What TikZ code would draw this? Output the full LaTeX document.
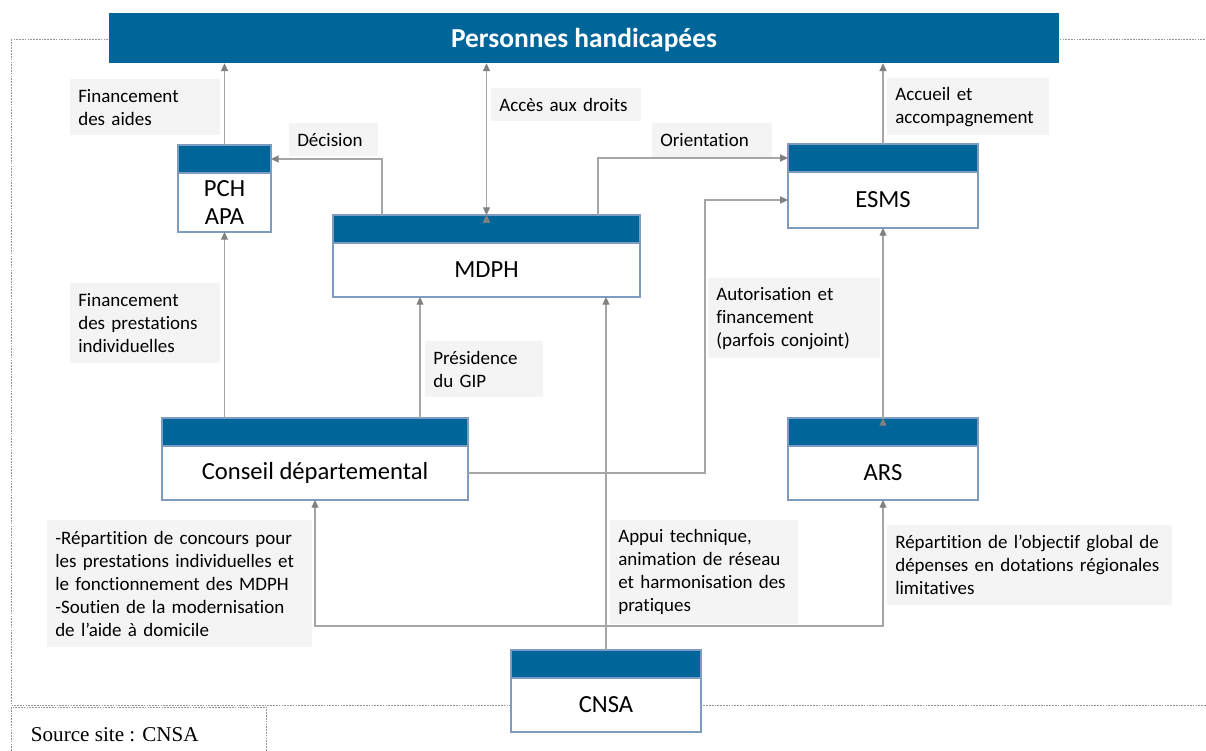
\documentclass[tikz,border=0pt]{standalone}
\usepackage{fontspec}
\setmainfont{Carlito}[Ligatures=NoCommon]
\newfontfamily\sourcefont{Liberation Serif}
\usetikzlibrary{arrows.meta,positioning}

\definecolor{bleuCNSA}{RGB}{0,102,153}
\definecolor{bordCNSA}{RGB}{126,156,192}
\definecolor{fondetiq}{RGB}{244,244,244}
\definecolor{gristrait}{RGB}{166,166,166}
\definecolor{grisfleche}{RGB}{128,128,128}
\definecolor{grispoint}{RGB}{150,150,150}

\begin{document}
\begin{tikzpicture}[>={Triangle[length=5.5pt,width=5pt,color=grisfleche]}, x=0.025cm, y=-0.025cm, font=\fontsize{13.5pt}{16.4pt}\selectfont]
	\tikzstyle{corps}=[rectangle,draw=bordCNSA,fill=white,line width=1pt,inner sep=0pt,outer sep=0pt,align=center,font=\fontsize{17.5pt}{20pt}\selectfont]
	\tikzstyle{entete}=[rectangle,draw=bordCNSA,fill=bleuCNSA,line width=1pt,inner sep=0pt,outer sep=0pt,minimum height=0.7cm]
	\tikzstyle{etiq}=[rectangle,fill=fondetiq,anchor=north west,inner xsep=0.2cm,inner ysep=0pt,align=left]
	\tikzstyle{lien}=[draw=gristrait,line width=0.9pt]
	\tikzstyle{pointille}=[draw=grispoint,line width=0.6pt,dash pattern=on 1.2pt off 0.8pt]

	\useasboundingbox (0,0) rectangle (1206,751);
	\draw[pointille] (11,39) rectangle (1230,705);
	\draw[pointille] (11,707) rectangle (266,770);

	\node[rectangle,fill=bleuCNSA,minimum width=23.75cm,minimum height=1.25cm,text=white,text height=0.63cm,text depth=0.14cm,font=\bfseries\fontsize{19.5pt}{22pt}\selectfont] (PH) at (584,38) {Personnes handicapées};

	\node[corps,minimum width=2.325cm,minimum height=1.475cm] (PCH) at (224.5,202.5) {PCH\\APA};
	\node[entete,minimum width=2.325cm,above=0pt of PCH] (PCH_T) {};
	\node[corps,minimum width=7.675cm,minimum height=1.35cm] (MDPH) at (486.5,270) {MDPH};
	\node[entete,minimum width=7.675cm,above=0pt of MDPH] (MDPH_T) {};
	\node[corps,minimum width=4.75cm,minimum height=1.4cm] (ESMS) at (883,200) {ESMS};
	\node[entete,minimum width=4.75cm,above=0pt of ESMS] (ESMS_T) {};
	\node[corps,minimum width=7.65cm,minimum height=1.35cm] (CD) at (315,473) {Conseil départemental};
	\node[entete,minimum width=7.65cm,above=0pt of CD] (CD_T) {};
	\node[corps,minimum width=4.75cm,minimum height=1.35cm] (ARS) at (883,473) {ARS};
	\node[entete,minimum width=4.75cm,above=0pt of ARS] (ARS_T) {};
	\node[corps,minimum width=4.75cm,minimum height=1.35cm] (CNSA) at (606,705) {CNSA};
	\node[entete,minimum width=4.75cm,above=0pt of CNSA] (CNSA_T) {};

	\node[etiq,text width=3.35cm,minimum height=1.4cm] (L_AIDES) at (70,79) {Financement\\des aides};
	\node[etiq,text width=1.825cm,minimum height=0.825cm] (L_DECISION) at (289,123) {Décision};
	\node[etiq,text width=3.35cm,minimum height=0.825cm] (L_ACCES) at (491,88) {Accès aux droits};
	\node[etiq,text width=2.6cm,minimum height=0.85cm] (L_ORIENT) at (652,123) {Orientation};
	\node[etiq,text width=3.65cm,minimum height=1.425cm] (L_ACCUEIL) at (887,78) {Accueil et\\accompagnement};
	\node[etiq,text width=3.35cm,minimum height=2cm] (L_PREST) at (70,283) {Financement\\des prestations\\individuelles};
	\node[etiq,text width=2.55cm,minimum height=1.4cm] (L_GIP) at (425,341) {Présidence\\du GIP};
	\node[etiq,text width=3.9cm,minimum height=2cm] (L_AUTOR) at (708,278) {Autorisation et\\financement\\(parfois conjoint)};
	\node[etiq,text width=6.225cm,minimum height=3.175cm] (L_CONCOURS) at (47,520) {-Répartition de concours pour\\les prestations individuelles et\\le fonctionnement des MDPH\\-Soutien de la modernisation\\de l’aide à domicile};
	\node[etiq,text width=4.3cm,minimum height=2.6cm] (L_APPUI) at (610,520) {Appui technique,\\animation de réseau\\et harmonisation des\\pratiques};
	\node[etiq,text width=6.725cm,minimum height=2cm] (L_OBJECTIF) at (887,525) {Répartition de l’objectif global de\\dépenses en dotations régionales\\limitatives};

	\node[anchor=west,font=\sourcefont\fontsize{15pt}{17pt}\selectfont] (SOURCE) at (26,735) {Source site : CNSA};

	\coordinate (DEC) at ([xshift=1.225cm]MDPH_T.north west);
	\coordinate (ORI) at ([xshift=-1.05cm]MDPH_T.north east);
	\coordinate (GIP) at ([xshift=2.175cm]MDPH.south west);
	\coordinate (COUDE) at (705,300);
	\coordinate (JONCTION) at (606,626);

	\path[->,lien]	(PCH_T.north) edge (PCH_T.north |- PH.south)
				(ESMS_T.north) edge (ESMS_T.north |- PH.south)
				(PCH.south |- CD_T.north) edge (PCH.south)
				(GIP |- CD_T.north) edge (GIP)
				(CNSA_T.north) edge (CNSA_T.north |- MDPH.south)
				(ARS_T.north) edge (ESMS.south);
	\path[<->,lien] (MDPH_T.north) edge (MDPH_T.north |- PH.south);

	\draw[->,lien] (DEC) |- (PCH_T.east);
	\draw[->,lien] (ORI) |- (ESMS_T.west);
	\draw[->,lien] (CD.east) -| (COUDE) |- (ESMS.west);
	\draw[->,lien] (JONCTION) -| (CD.south);
	\draw[->,lien] (JONCTION) -| (ARS.south);

\end{tikzpicture}
\end{document}
